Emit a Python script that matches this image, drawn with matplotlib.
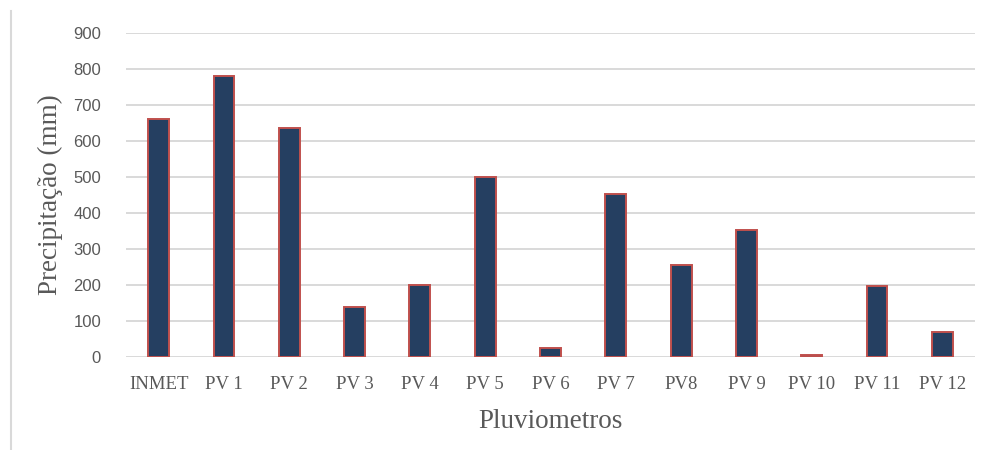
import numpy as np
import matplotlib
matplotlib.use('Agg')
import matplotlib.pyplot as plt
from matplotlib.lines import Line2D

# Dados
estacoes = ['INMET', 'PV 1', 'PV 2', 'PV 3', 'PV 4', 'PV 5', 'PV 6',
            'PV 7', 'PV8', 'PV 9', 'PV 10', 'PV 11', 'PV 12']
precip = [661, 780, 637, 139, 199, 500, 24, 453, 256, 352, 6, 197, 69]
yticks = [0, 100, 200, 300, 400, 500, 600, 700, 800, 900]

azul = '#253f61'
vermelho = '#c0504d'
cinza_txt = '#595959'
cinza_grade = '#d9d9d9'

fig = plt.figure(figsize=(9.86, 4.5), dpi=100)
ax = fig.add_axes([0.1278, 0.2067, 0.861, 0.72])

x = np.arange(len(estacoes))
ax.bar(x, precip, width=0.32, color=azul, edgecolor=vermelho, linewidth=1.4, zorder=3)

ax.set_xlim(-0.5, len(estacoes) - 0.5)
ax.set_ylim(0, 900)
ax.set_yticks(yticks)
ax.set_xticks(x)
ax.set_xticklabels(estacoes, family='Liberation Serif', fontsize=13.5, color=cinza_txt)
for lbl in ax.get_yticklabels():
    lbl.set_family('Liberation Sans')
    lbl.set_fontsize(12)
    lbl.set_color(cinza_txt)

ax.tick_params(axis='both', length=0)
ax.tick_params(axis='y', pad=18)
ax.tick_params(axis='x', pad=14)
ax.grid(axis='y', color=cinza_grade, linewidth=1.4, zorder=0)
for s in ax.spines.values():
    s.set_visible(False)

ax.set_xlabel('Pluviometros', family='Liberation Serif', fontsize=19.5, color=cinza_txt, labelpad=11)
ax.set_ylabel('Precipitação (mm)', family='Liberation Serif', fontsize=19.5, color=cinza_txt, labelpad=7)

# linha cinza da borda esquerda
fig.add_artist(Line2D([0.0107, 0.0107], [0.0, 0.976], color=cinza_grade, linewidth=1.5))

fig.savefig('out.png', dpi=100, facecolor='white')
